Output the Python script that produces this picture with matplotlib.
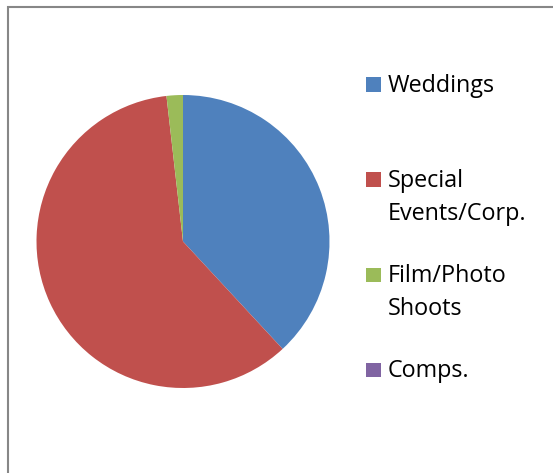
import matplotlib
matplotlib.use("Agg")
import matplotlib.pyplot as plt
from matplotlib.patches import Rectangle

categories = ["Weddings", "Special\nEvents/Corp.", "Film/Photo\nShoots", "Comps."]
shares = [38.1, 60.1, 1.8, 0.0]
colors = ["#4F81BD", "#C0504D", "#9BBB59", "#8064A2"]

W, H = 553, 473
fig = plt.figure(figsize=(W / 100, H / 100), dpi=100)
fig.patch.set_facecolor("white")

# chart frame
fig.patches.append(Rectangle((7.5 / W, -0.05), 2.0, (H - 7.5) / H + 0.05,
                             transform=fig.transFigure, fill=False,
                             edgecolor="#878787", linewidth=1.5))

cx, cy, r = 183, 241.5, 146.5
ax = fig.add_axes([(cx - r) / W, (H - cy - r) / H, 2 * r / W, 2 * r / H])
ax.pie(shares, colors=colors, startangle=90, counterclock=False,
       radius=1.0, wedgeprops=dict(linewidth=0))
ax.set_xlim(-1, 1)
ax.set_ylim(-1, 1)
ax.set_axis_off()

# legend: swatch plus label lines, placed by baseline in pixels
baselines = [91.7, 186.7, 282.0, 377.0]
line_gap = 33
for name, col, yb in zip(categories, colors, baselines):
    fig.patches.append(Rectangle((366 / W, (H - yb) / H), 14.7 / W, 14.5 / H,
                                 transform=fig.transFigure, facecolor=col,
                                 edgecolor="none"))
    for k, line in enumerate(name.split("\n")):
        fig.text(388 / W, (H - yb - k * line_gap) / H, line, fontsize=16.8,
                 family="Open Sans", va="baseline", ha="left", color="black")

fig.savefig("out.png", dpi=100)
